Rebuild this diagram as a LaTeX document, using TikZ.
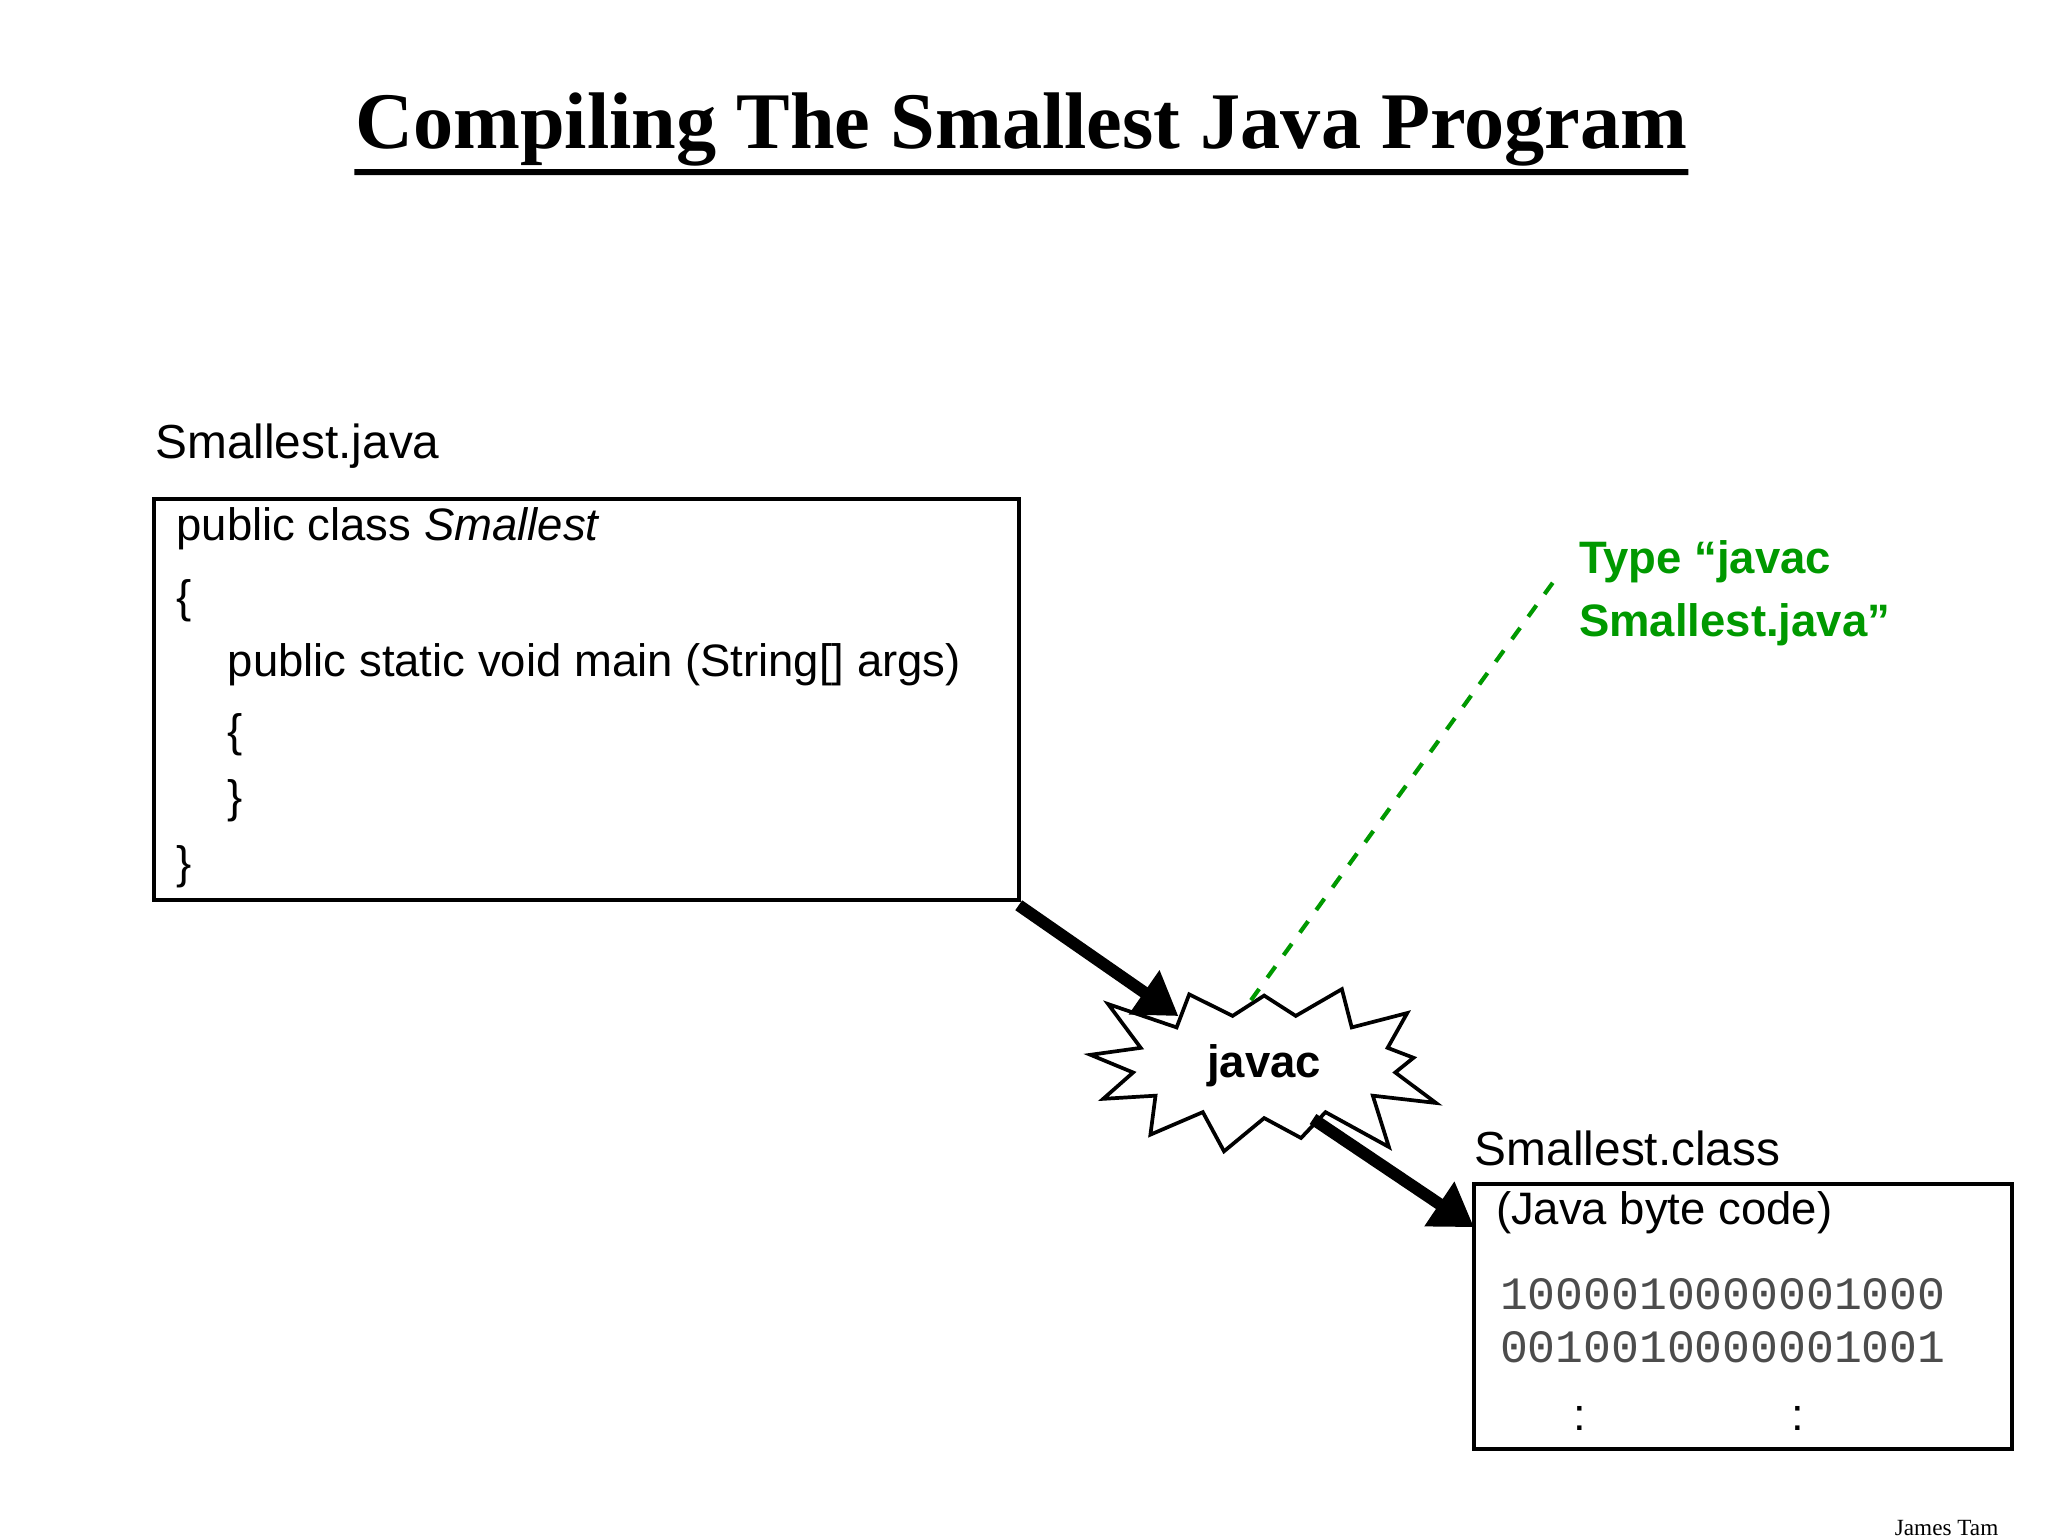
\documentclass[tikz,border=0pt]{standalone}
\usepackage{fontspec}
\setmainfont{Liberation Sans}
\newfontfamily\titlefont{Liberation Serif}
\newfontfamily\codefont{Liberation Mono}
\usetikzlibrary{shapes.symbols,arrows.meta}
\tikzset{
  codeline/.style={anchor=west, font=\fontsize{9.8}{12}\selectfont, inner sep=0pt},
  bigarrow/.style={line width=2.6pt, -{Triangle[length=9pt,width=11pt]}},
}
\begin{document}
\begin{tikzpicture}[x=0.01cm,y=-0.01cm]
	\useasboundingbox (0,0) rectangle (1552,1164);
	% Title
	\node[font=\titlefont\bfseries\fontsize{17.3}{20}\selectfont, inner sep=0pt] (title) at (774,98) {Compiling The Smallest Java Program};
	\draw[line width=1.3pt] (title.south west) ++(0,4) -- ([yshift=-0.04cm]title.south east);
	% Source file
	\node[anchor=west, inner sep=0pt, font=\fontsize{10.3}{12}\selectfont] (src-name) at (117,338) {Smallest.java};
	\draw[line width=0.9pt] (117,378) rectangle (772,682);
	\node[codeline] (l1) at (133,401) {public class \textit{Smallest}};
	\node[codeline] (l2) at (133,455) {\{};
	\node[codeline] (l3) at (172,504) {public static void main (String[] args)};
	\node[codeline] (l4) at (172,557) {\{};
	\node[codeline] (l5) at (172,607) {\}};
	\node[codeline] (l6) at (133,657) {\}};
	\coordinate (src-corner) at (772,686);
	% Compiler
	\node[starburst, draw, line width=0.8pt, starburst points=13, starburst point height=0.45cm, random starburst=3, minimum width=2.9cm, minimum height=1.25cm, font=\bfseries\fontsize{9.8}{12}\selectfont] (javac) at (958,808) {javac};
	\coordinate (javac-in) at (893,770);
	\coordinate (javac-out) at (995,848);
	\coordinate (javac-top) at (948,758);
	% Hint
	\node[anchor=north west, align=left, inner sep=0pt, text=green!60!black, font=\bfseries\fontsize{9.8}{13.5}\selectfont] (hint) at (1196,409) {Type “javac\\Smallest.java”};
	\coordinate (hint-end) at (1180,437);
	\draw[green!60!black, dashed, line width=0.9pt] (javac-top) -- (hint-end);
	% Class file
	\node[anchor=west, inner sep=0pt, font=\fontsize{10.3}{12}\selectfont] (cls-name) at (1117,870) {Smallest.class};
	\draw[line width=0.9pt] (1117,897) rectangle (1525,1098);
	\coordinate (cls-corner) at (1117,930);
	\node[codeline] (b1) at (1133,919) {(Java byte code)};
	\node[anchor=north west, align=left, inner sep=0pt, text=black!70, font=\codefont\fontsize{10}{11.5}\selectfont] (bits) at (1136,968) {1000010000001000\\0010010000001001};
	\node[codeline] (dots1) at (1192,1075) {:};
	\node[codeline] (dots2) at (1357,1075) {:};
	% Arrows
	\draw[bigarrow] (src-corner) -- (javac-in);
	\draw[bigarrow] (javac-out) -- (cls-corner);
	% Author
	\node[font=\titlefont\fontsize{5}{6}\selectfont, anchor=east, inner sep=0pt] (author) at (1515,1158) {James Tam};
\end{tikzpicture}
\end{document}
